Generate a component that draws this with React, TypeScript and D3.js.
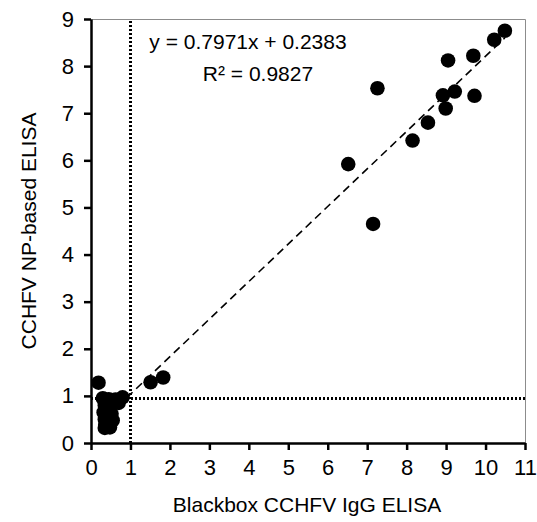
import React, { useRef, useEffect } from 'react';
import * as d3 from 'd3';

// Blackbox IgG ELISA (x) vs NP-based ELISA (y)
const blackbox = [
  0.19, 0.3, 0.45, 0.62, 0.8, 0.7, 0.35, 0.5, 0.32, 0.52, 0.35, 0.55, 0.36, 0.48, 0.35,
  1.51, 1.83, 6.52, 7.15, 7.26, 8.15, 8.54, 8.92, 8.99, 9.05, 9.22, 9.69, 9.72, 10.22, 10.49,
];
const npElisa = [
  1.28, 0.95, 0.93, 0.92, 0.97, 0.85, 0.8, 0.78, 0.65, 0.62, 0.5, 0.48, 0.38, 0.33, 0.32,
  1.29, 1.39, 5.92, 4.65, 7.53, 6.42, 6.8, 7.38, 7.1, 8.12, 7.46, 8.22, 7.37, 8.56, 8.75,
];
const xTicks = [0, 1, 2, 3, 4, 5, 6, 7, 8, 9, 10, 11];
const yTicks = [0, 1, 2, 3, 4, 5, 6, 7, 8, 9];
const slope = 0.7971;
const intercept = 0.2383;
const rSquared = 0.9827;
const cutX = 1;
const cutY = 0.95;

const W = 537;
const H = 522;
const font = '"Liberation Sans", Arial, sans-serif';

const App = () => {
  const ref = useRef<SVGSVGElement>(null);

  useEffect(() => {
    const svg = d3.select(ref.current);
    svg.selectAll('*').remove();

    const x = d3.scaleLinear().domain([0, 11]).range([91, 525]);
    const y = d3.scaleLinear().domain([0, 9]).range([443, 19]);

    // top/right frame
    svg.append('path')
      .attr('d', `M${x(0)},${y(9) + 0.5}H${x(11) + 0.5}V${y(0)}`)
      .attr('fill', 'none')
      .attr('stroke', '#8c8c8c')
      .attr('stroke-width', 1);

    // cut-off lines
    const cx = Math.round(x(cutX));
    const cy = Math.round(y(cutY));
    svg.append('line')
      .attr('x1', cx).attr('x2', cx)
      .attr('y1', y(0)).attr('y2', y(9))
      .attr('stroke', '#000').attr('stroke-width', 3)
      .attr('stroke-dasharray', '2,2')
      .attr('shape-rendering', 'crispEdges');
    svg.append('line')
      .attr('x1', x(0)).attr('x2', x(11))
      .attr('y1', cy).attr('y2', cy)
      .attr('stroke', '#000').attr('stroke-width', 3)
      .attr('stroke-dasharray', '2,2')
      .attr('shape-rendering', 'crispEdges');

    // trendline
    const xMin = d3.min(blackbox) as number;
    const xMax = d3.max(blackbox) as number;
    svg.append('line')
      .attr('x1', x(xMin)).attr('y1', y(slope * xMin + intercept))
      .attr('x2', x(xMax)).attr('y2', y(slope * xMax + intercept))
      .attr('stroke', '#000').attr('stroke-width', 1.6)
      .attr('stroke-dasharray', '8,5');

    // points
    svg.append('g')
      .selectAll('circle')
      .data(blackbox)
      .join('circle')
      .attr('cx', (d) => x(d))
      .attr('cy', (d, i) => y(npElisa[i]))
      .attr('r', 7.3)
      .attr('fill', '#000');

    // axes
    const xAxis = svg.append('g')
      .attr('transform', `translate(0,${y(0)})`)
      .call(d3.axisBottom(x).tickValues(xTicks).tickSize(7).tickSizeOuter(0).tickPadding(9).tickFormat(d3.format('d')));
    const yAxis = svg.append('g')
      .attr('transform', `translate(${x(0)},0)`)
      .call(d3.axisLeft(y).tickValues(yTicks).tickSize(7).tickSizeOuter(0).tickPadding(10).tickFormat(d3.format('d')));
    [xAxis, yAxis].forEach((g) => {
      g.select('.domain').attr('stroke', '#000').attr('stroke-width', 2.5);
      g.selectAll('.tick line').attr('stroke', '#000').attr('stroke-width', 2.5);
      g.selectAll('.tick text').attr('fill', '#000').style('font-size', '22px').style('font-family', font);
    });

    // equation
    svg.append('text')
      .attr('x', 248).attr('y', 49)
      .attr('text-anchor', 'middle')
      .style('font-size', '21px').style('font-family', font)
      .text(`y = ${slope}x + ${intercept}`);
    svg.append('text')
      .attr('x', 258).attr('y', 81)
      .attr('text-anchor', 'middle')
      .style('font-size', '21px').style('font-family', font)
      .text(`R² = ${rSquared}`);

    // titles
    svg.append('text')
      .attr('x', 307).attr('y', 512)
      .attr('text-anchor', 'middle')
      .style('font-size', '21px').style('font-family', font)
      .text('Blackbox CCHFV IgG ELISA');
    svg.append('text')
      .attr('transform', `translate(36,${(y(0) + y(9)) / 2}) rotate(-90)`)
      .attr('text-anchor', 'middle')
      .style('font-size', '21px').style('font-family', font)
      .text('CCHFV NP-based ELISA');
  }, []);

  return (
    <svg ref={ref} width={W} height={H}
      style={{ position: 'absolute', left: 0, top: 0, background: '#fff' }} />
  );
};

export default App;
